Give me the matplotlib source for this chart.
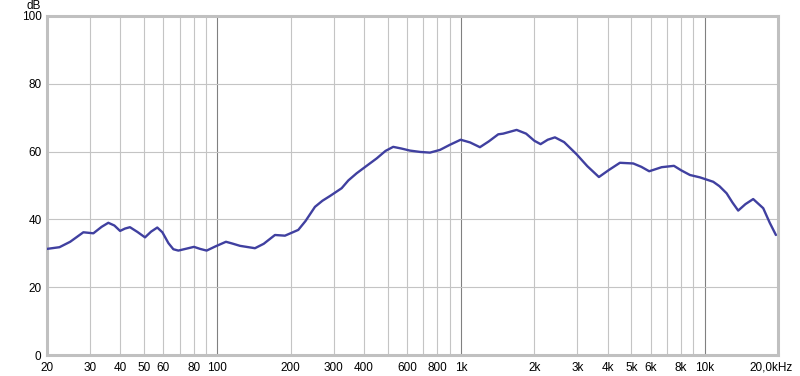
import matplotlib
matplotlib.use("Agg")
import matplotlib.pyplot as plt

freq_hz = [20, 22.5, 24.9, 26.5, 28.2, 31.0, 33.5, 35.7, 37.8, 39.9, 41.8, 43.8, 47, 50.5,
           53.5, 56.7, 59.5, 63, 66.0, 69.2, 74, 80.2, 85, 90.4, 98, 108.5, 115, 123.9,
           142.7, 155, 172.4, 189.5, 214.9, 230, 251.6, 270, 290, 323.8, 345, 373, 410,
           451, 490, 527, 570, 617, 680, 746, 820, 900, 997, 1090, 1196, 1300, 1422, 1490,
           1692, 1850, 2000, 2122, 2270, 2430, 2650, 2982, 3300, 3682, 4050, 4490, 5092,
           5500, 5922, 6660, 7482, 8000, 8702, 9562, 10844, 11500, 12306, 13000, 13730,
           14700, 15820, 17394, 18500, 19608]
level_db = [31.3, 31.8, 33.4, 34.8, 36.2, 35.9, 37.8, 39.0, 38.2, 36.6, 37.3, 37.7, 36.3, 34.7,
            36.4, 37.6, 36.2, 33.0, 31.2, 30.8, 31.3, 31.9, 31.3, 30.8, 32.0, 33.4, 32.9, 32.2,
            31.5, 32.8, 35.4, 35.2, 36.9, 39.5, 43.7, 45.5, 46.9, 49.2, 51.5, 53.6, 55.8,
            58.0, 60.2, 61.4, 60.9, 60.3, 59.9, 59.7, 60.5, 62.0, 63.5, 62.7, 61.3, 63.0, 65.1, 65.3,
            66.4, 65.3, 63.2, 62.2, 63.5, 64.2, 62.8, 59.2, 55.7, 52.5, 54.6, 56.7, 56.5,
            55.5, 54.2, 55.4, 55.8, 54.5, 53.1, 52.4, 51.1, 49.8, 47.7, 45.0, 42.6,
            44.5, 46.0, 43.3, 39.0, 35.4]

x_ticks = [20, 30, 40, 50, 60, 80, 100, 200, 300, 400, 600, 800, 1000, 2000, 3000, 4000,
           5000, 6000, 8000, 10000]
x_tick_labels = ["20", "30", "40", "50", "60", "80", "100", "200", "300", "400", "600", "800",
                 "1k", "2k", "3k", "4k", "5k", "6k", "8k", "10k"]
y_ticks = [0, 20, 40, 60, 80, 100]

plt.rcParams['font.family'] = ['Liberation Sans', 'DejaVu Sans']

fig = plt.figure(figsize=(8, 3.76), dpi=100)
ax = fig.add_axes([47/800, 21/376, 731/800, 339/376])

ax.set_xscale('log')
ax.set_xlim(20, 20000)
ax.set_ylim(0, 100)

minor = []
for dec in [10, 100, 1000, 10000]:
    for m in range(2, 10):
        v = dec * m
        if 20 < v < 20000:
            minor.append(v)
for v in minor:
    ax.axvline(v, color='#c4c4c4', lw=0.8, zorder=1)
for v in [100, 1000, 10000]:
    ax.axvline(v, color='#808080', lw=0.8, zorder=1)
for v in [20, 40, 60, 80]:
    ax.axhline(v, color='#c4c4c4', lw=0.8, zorder=1)

ax.plot(freq_hz, level_db, color='#4040a0', lw=1.7, zorder=3,
        solid_joinstyle='round', solid_capstyle='round')

ax.set_xticks(x_ticks)
ax.set_xticklabels(x_tick_labels)
ax.xaxis.set_minor_locator(matplotlib.ticker.NullLocator())
ax.set_yticks(y_ticks)
ax.tick_params(axis='both', length=0, labelsize=8.5, colors='black')
ax.tick_params(axis='x', pad=5)
ax.tick_params(axis='y', pad=4)

for s in ax.spines.values():
    s.set_color('#c0c0c0')
    s.set_linewidth(2.2)

fig.text(793/800, 1 - 367/376, "20,0kHz", ha='right', va='center', fontsize=8.5)
fig.text(34/800, 1 - 6/376, "dB", ha='center', va='center', fontsize=8.5)

fig.savefig("out.png", dpi=100)
